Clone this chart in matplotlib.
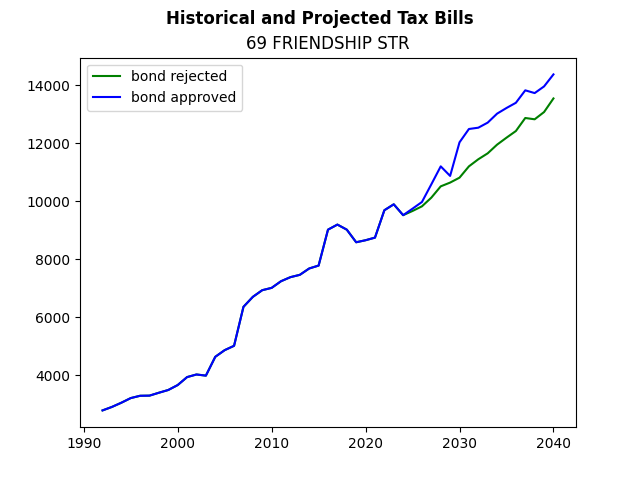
import matplotlib
matplotlib.use('Agg')
import matplotlib.pyplot as plt

# historical bills 1992-2024
hist_years = list(range(1992, 2025))
hist_bills = [2780, 2900, 3045, 3205, 3285, 3290, 3390, 3485, 3655, 3930,
              4020, 3980, 4630, 4860, 5010, 6355, 6700, 6930, 7010, 7240,
              7380, 7460, 7680, 7780, 9020, 9195, 9020, 8585, 8655, 8745,
              9690, 9895, 9520]

# projections 2025-2040
proj_years = list(range(2025, 2041))
rejected = [9665, 9825, 10125, 10515, 10645, 10815, 11205, 11450, 11655, 11955,
            12195, 12425, 12875, 12830, 13080, 13550]
approved = [9745, 9975, 10585, 11205, 10875, 12035, 12495, 12540, 12715, 13025,
            13220, 13400, 13830, 13735, 13965, 14380]

years = hist_years + proj_years

fig, ax = plt.subplots(figsize=(6.4, 4.8), dpi=100)
ax.plot(years, hist_bills + rejected, color='green', label='bond rejected')
ax.plot(years, hist_bills + approved, color='blue', label='bond approved')

fig.suptitle('Historical and Projected Tax Bills', fontweight='bold')
ax.set_title('69 FRIENDSHIP STR')
ax.legend(loc='upper left')

fig.savefig('out.png')
